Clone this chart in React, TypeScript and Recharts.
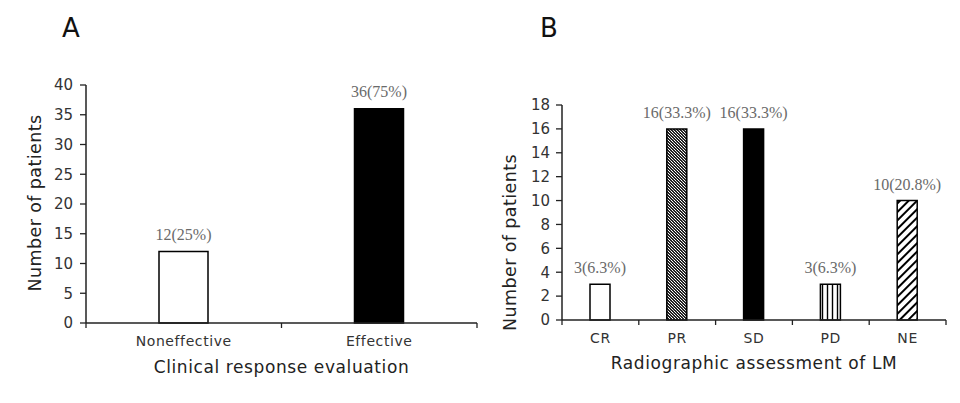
import React from 'react';
import { BarChart, Bar, XAxis, YAxis, Cell, LabelList } from 'recharts';

// Panel A: clinical response
const RESPONSE_CATEGORIES = ['Noneffective', 'Effective'];
const RESPONSE_COUNTS = [12, 36];
const RESPONSE_PERCENTS = [25, 75];
const RESPONSE_TICKS = [0, 5, 10, 15, 20, 25, 30, 35, 40];

// Panel B: radiographic assessment of LM
const LM_CATEGORIES = ['CR', 'PR', 'SD', 'PD', 'NE'];
const LM_COUNTS = [3, 16, 16, 3, 10];
const LM_PERCENTS = [6.3, 33.3, 33.3, 6.3, 20.8];
const LM_TICKS = [0, 2, 4, 6, 8, 10, 12, 14, 16, 18];

const RESPONSE_FILLS = ['#ffffff', '#000000'];
const LM_FILLS = ['#ffffff', 'url(#patPR)', '#000000', 'url(#patPD)', 'url(#patNE)'];

const SANS = '"DejaVu Sans", Verdana, sans-serif';
const SERIF = '"Liberation Serif", "Times New Roman", serif';
const INK = '#222';

const buildRows = (cats: string[], counts: number[], pcts: number[]) =>
  cats.map((c, i) => ({ name: c, count: counts[i], label: `${counts[i]}(${pcts[i]}%)` }));

const responseData = buildRows(RESPONSE_CATEGORIES, RESPONSE_COUNTS, RESPONSE_PERCENTS);
const lmData = buildRows(LM_CATEGORIES, LM_COUNTS, LM_PERCENTS);

// x ticks: label at band centre, tick marks at band edges
function EdgeTick(props: any) {
  const { x, y, payload, index, visibleTicksCount } = props;
  const half = payload && payload.offset ? payload.offset : 0;
  const last = index === visibleTicksCount - 1;
  return (
    <g>
      <line x1={x - half} x2={x - half} y1={y} y2={y + 5} stroke={INK} strokeWidth={1.3} />
      {last && <line x1={x + half} x2={x + half} y1={y} y2={y + 5} stroke={INK} strokeWidth={1.3} />}
      <text x={x} y={y + 23} textAnchor="middle" fontFamily={SANS} fontSize={14} letterSpacing={0.6} fill="#333">
        {payload.value}
      </text>
    </g>
  );
}

const yTitle = (dx: number, dy: number) => (props: any) => {
  const { viewBox, value } = props;
  const cx = viewBox.x + dx;
  const cy = viewBox.y + viewBox.height / 2 + dy;
  return (
    <text x={cx} y={cy} transform={`rotate(-90 ${cx} ${cy})`} textAnchor="middle" dominantBaseline="central"
      fontFamily={SANS} fontSize={17.5} letterSpacing={0.4} fill={INK}>
      {value}
    </text>
  );
};

const xTitle = (dy: number) => (props: any) => {
  const { viewBox, value } = props;
  const cx = viewBox.x + viewBox.width / 2;
  return (
    <text x={cx} y={viewBox.y + dy} textAnchor="middle" fontFamily={SANS} fontSize={17} letterSpacing={0.6} fill={INK}>
      {value}
    </text>
  );
};

const yTickStyle = { fontFamily: SANS, fontSize: 15, fill: '#333' };
const valueLabelStyle = { fontFamily: SERIF, fontSize: 16, fill: '#6a6a6a' };

function PanelLetter({ text, left }: { text: string; left: number }) {
  return (
    <div style={{ position: 'absolute', left, top: 15, lineHeight: 1, fontFamily: SANS, fontSize: 26, color: '#111' }}>
      {text}
    </div>
  );
}

export default function App() {
  return (
    <div style={{ position: 'absolute', left: 0, top: 0, width: 960, height: 403, background: '#fff' }}>
      <PanelLetter text="A" left={62} />
      <PanelLetter text="B" left={540} />

      <div style={{ position: 'absolute', left: 0, top: 0 }}>
        <BarChart width={480} height={403} data={responseData} margin={{ top: 85, right: 3, bottom: 0, left: 0 }}>
          <XAxis dataKey="name" height={80} tick={<EdgeTick />} tickSize={0} tickMargin={0} interval={0}
            axisLine={{ stroke: INK, strokeWidth: 1.5 }} tickLine={false}
            label={{ value: 'Clinical response evaluation', content: xTitle(50) }} />
          <YAxis type="number" domain={[0, 40]} ticks={RESPONSE_TICKS} interval={0} width={86}
            tick={yTickStyle} tickSize={6} tickMargin={7}
            axisLine={{ stroke: INK, strokeWidth: 1.5 }} tickLine={{ stroke: INK, strokeWidth: 1.3 }}
            label={{ value: 'Number of patients', content: yTitle(35, -1) }} />
          <Bar dataKey="count" barSize={49} stroke="#000" strokeWidth={1.5} isAnimationActive={false}>
            {responseData.map((d, i) => (
              <Cell key={d.name} fill={RESPONSE_FILLS[i]} />
            ))}
            <LabelList dataKey="label" position="top" offset={12} style={valueLabelStyle} />
          </Bar>
        </BarChart>
      </div>

      <div style={{ position: 'absolute', left: 480, top: 0 }}>
        <BarChart width={480} height={403} data={lmData} margin={{ top: 105, right: 14, bottom: 0, left: 0 }}>
          <defs>
            <pattern id="patPR" width="3" height="3" patternUnits="userSpaceOnUse">
              <rect width="3" height="3" fill="#222" />
              <rect x="0" y="0" width="1" height="1" fill="#fff" />
              <rect x="1" y="1" width="1" height="1" fill="#ccc" />
              <rect x="2" y="2" width="1" height="1" fill="#fff" />
            </pattern>
            <pattern id="patPD" width="5" height="5" patternUnits="userSpaceOnUse">
              <rect width="5" height="5" fill="#fff" />
              <line x1="2.5" y1="0" x2="2.5" y2="5" stroke="#000" strokeWidth="1.4" />
            </pattern>
            <pattern id="patNE" width="6" height="6" patternUnits="userSpaceOnUse" patternTransform="rotate(45)">
              <rect width="6" height="6" fill="#fff" />
              <line x1="1" y1="0" x2="1" y2="6" stroke="#000" strokeWidth="2" />
            </pattern>
          </defs>
          <XAxis dataKey="name" height={83} tick={<EdgeTick />} tickSize={0} tickMargin={0} interval={0}
            axisLine={{ stroke: INK, strokeWidth: 1.5 }} tickLine={false}
            label={{ value: 'Radiographic assessment of LM', content: xTitle(49) }} />
          <YAxis type="number" domain={[0, 18]} ticks={LM_TICKS} interval={0} width={82}
            tick={yTickStyle} tickSize={6} tickMargin={6}
            axisLine={{ stroke: INK, strokeWidth: 1.5 }} tickLine={{ stroke: INK, strokeWidth: 1.3 }}
            label={{ value: 'Number of patients', content: yTitle(30, 30) }} />
          <Bar dataKey="count" barSize={20} stroke="#000" strokeWidth={1.5} isAnimationActive={false}>
            {lmData.map((d, i) => (
              <Cell key={d.name} fill={LM_FILLS[i]} />
            ))}
            <LabelList dataKey="label" position="top" offset={11} style={valueLabelStyle} />
          </Bar>
        </BarChart>
      </div>
    </div>
  );
}
